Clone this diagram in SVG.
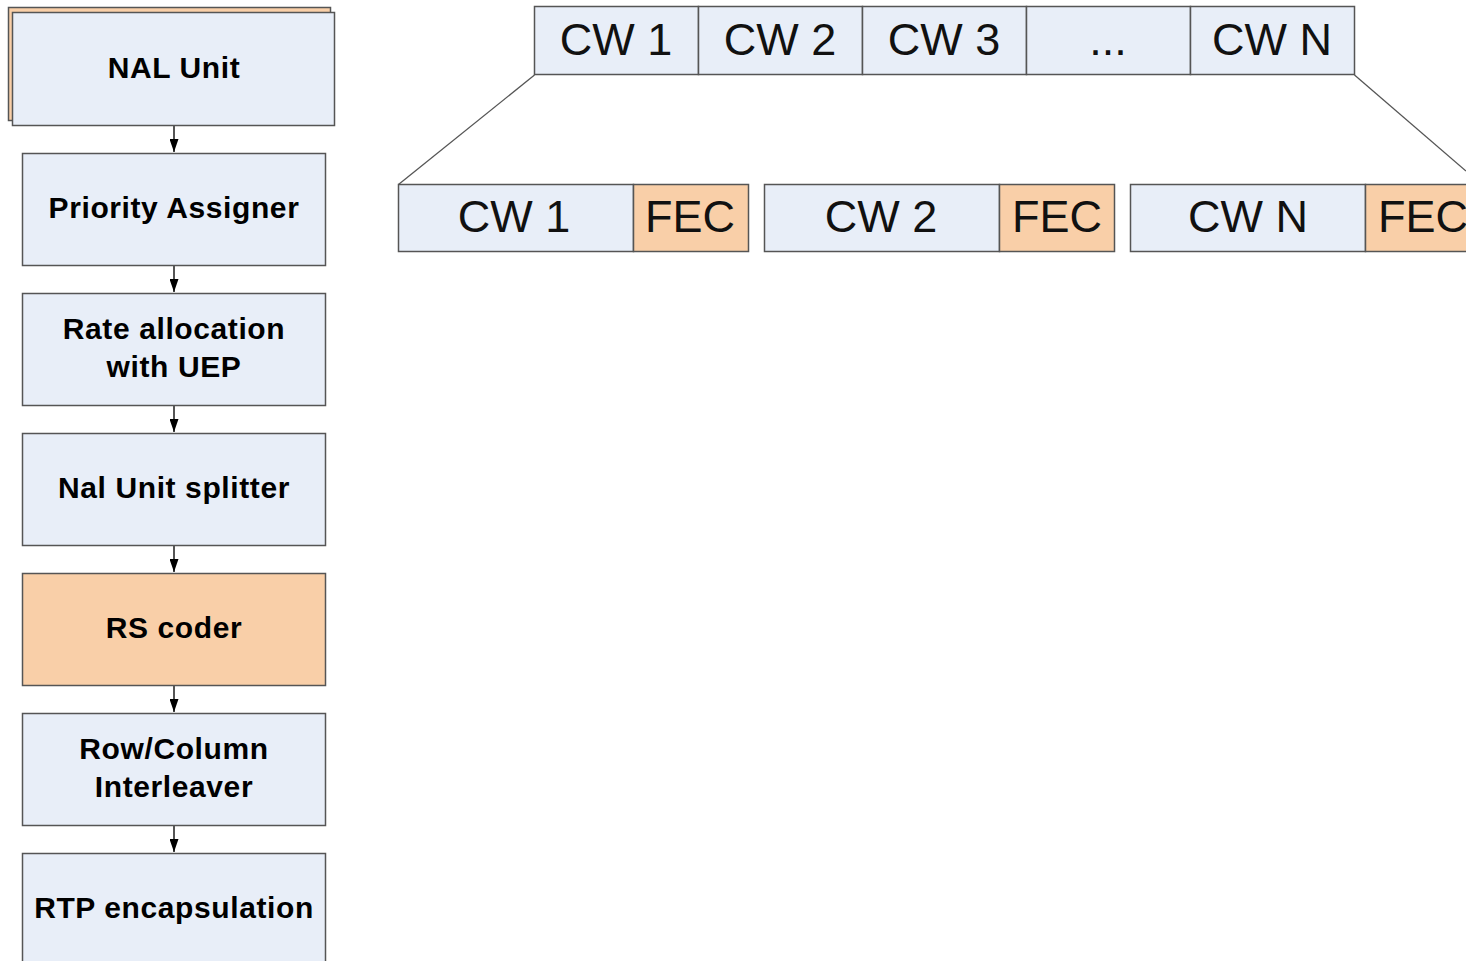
<svg xmlns="http://www.w3.org/2000/svg" width="1466" height="961" viewBox="0 0 1466 961">
  <style>
    .box { fill: #e8eef8; stroke: #555; stroke-width: 1.5; }
    .hot { fill: #f9cfa8; stroke: #555; stroke-width: 1.5; }
    .lbl { font-family: "Liberation Sans", Arial, sans-serif; font-weight: bold; font-size: 30px; letter-spacing: 0.6px; fill: #000; text-anchor: middle; }
    .cw { font-family: "Liberation Sans", Arial, sans-serif; font-size: 45px; fill: #111; text-anchor: middle; }
    .conn { stroke: #555; stroke-width: 2; fill: none; }
    .fan { stroke: #555; stroke-width: 1.3; fill: none; }
  </style>
  <defs>
    <marker id="arr" viewBox="0 0 13 9" refX="13" refY="4.5" markerWidth="13" markerHeight="9" markerUnits="userSpaceOnUse" orient="auto">
      <path d="M0,0 L13,4.5 L0,9 z" fill="#000"/>
    </marker>
  </defs>

  <rect width="1466" height="961" fill="#fff"/>

  <!-- processing chain -->
  <g id="nal-unit">
    <rect class="hot" x="8.5" y="7.5" width="322" height="113"/>
    <rect class="box" x="12.5" y="12.5" width="322" height="113"/>
    <text class="lbl" x="174" y="78">NAL Unit</text>
  </g>
  <g id="priority-assigner">
    <rect class="box" x="22.5" y="153.5" width="303" height="112"/>
    <text class="lbl" x="174" y="218">Priority Assigner</text>
  </g>
  <g id="rate-allocation">
    <rect class="box" x="22.5" y="293.5" width="303" height="112"/>
    <text class="lbl" x="174" y="339">Rate allocation</text>
    <text class="lbl" x="174" y="377">with UEP</text>
  </g>
  <g id="nal-splitter">
    <rect class="box" x="22.5" y="433.5" width="303" height="112"/>
    <text class="lbl" x="174" y="498">Nal Unit splitter</text>
  </g>
  <g id="rs-coder">
    <rect class="hot" x="22.5" y="573.5" width="303" height="112"/>
    <text class="lbl" x="174" y="638">RS coder</text>
  </g>
  <g id="interleaver">
    <rect class="box" x="22.5" y="713.5" width="303" height="112"/>
    <text class="lbl" x="174" y="759">Row/Column</text>
    <text class="lbl" x="174" y="797">Interleaver</text>
  </g>
  <g id="rtp-encapsulation">
    <rect class="box" x="22.5" y="853.5" width="303" height="120"/>
    <text class="lbl" x="174" y="918">RTP encapsulation</text>
  </g>

  <!-- codeword row -->
  <g id="codewords">
    <rect class="box" x="534.5" y="6.5" width="164" height="68"/>
    <rect class="box" x="698.5" y="6.5" width="164" height="68"/>
    <rect class="box" x="862.5" y="6.5" width="164" height="68"/>
    <rect class="box" x="1026.5" y="6.5" width="164" height="68"/>
    <rect class="box" x="1190.5" y="6.5" width="164" height="68"/>
    <text class="cw" x="616" y="55">CW 1</text>
    <text class="cw" x="780" y="55">CW 2</text>
    <text class="cw" x="944" y="55">CW 3</text>
    <text class="cw" x="1108" y="55">...</text>
    <text class="cw" x="1272" y="55">CW N</text>
  </g>

  <!-- encoded codewords with parity -->
  <g id="encoded-1">
    <rect class="box" x="398.5" y="184.5" width="235" height="67"/>
    <rect class="hot" x="633.5" y="184.5" width="115" height="67"/>
    <text class="cw" x="514" y="232">CW 1</text>
    <text class="cw" x="690" y="232">FEC</text>
  </g>
  <g id="encoded-2">
    <rect class="box" x="764.5" y="184.5" width="235" height="67"/>
    <rect class="hot" x="999.5" y="184.5" width="115" height="67"/>
    <text class="cw" x="881" y="232">CW 2</text>
    <text class="cw" x="1057" y="232">FEC</text>
  </g>
  <g id="encoded-n">
    <rect class="box" x="1130.5" y="184.5" width="235" height="67"/>
    <rect class="hot" x="1365.5" y="184.5" width="115" height="67"/>
    <text class="cw" x="1248" y="232">CW N</text>
    <text class="cw" x="1423" y="232">FEC</text>
  </g>

  <g id="connectors">
    <line class="conn" x1="174" y1="126" x2="174" y2="152" marker-end="url(#arr)"/>
    <line class="conn" x1="174" y1="266" x2="174" y2="292" marker-end="url(#arr)"/>
    <line class="conn" x1="174" y1="406" x2="174" y2="432" marker-end="url(#arr)"/>
    <line class="conn" x1="174" y1="546" x2="174" y2="572" marker-end="url(#arr)"/>
    <line class="conn" x1="174" y1="686" x2="174" y2="712" marker-end="url(#arr)"/>
    <line class="conn" x1="174" y1="826" x2="174" y2="852" marker-end="url(#arr)"/>
    <line class="fan" x1="534.5" y1="75" x2="398.5" y2="184.5"/>
    <line class="fan" x1="1354.5" y1="75" x2="1466" y2="171"/>
  </g>
</svg>
